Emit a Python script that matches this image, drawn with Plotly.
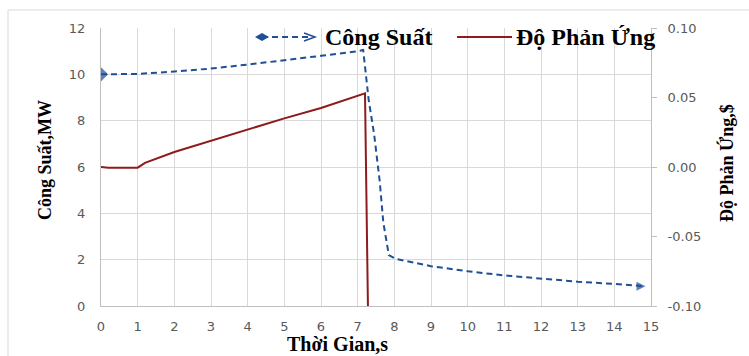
import plotly.graph_objects as go

# Power (MW) vs time (s)
t_power = [0, 1, 2, 3, 4, 5, 6, 7, 7.15, 7.3, 7.45, 7.6, 7.7, 7.85, 8.05, 9, 10, 11, 12, 13, 14, 14.85]
power = [10.0, 10.02, 10.12, 10.25, 10.42, 10.6, 10.8, 11.0, 11.05, 8.9, 7.4, 5.4, 3.6, 2.2, 2.03, 1.72, 1.5, 1.32, 1.17, 1.05, 0.95, 0.85]

# Reactivity ($) vs time (s)
t_react = [0, 0.2, 1.0, 1.2, 2, 3, 4, 5, 6, 7.2, 7.28]
react = [0.0, -0.0005, -0.0005, 0.003, 0.0108, 0.019, 0.027, 0.035, 0.0425, 0.053, -0.1]

x_ticks = list(range(0, 16))
y2_vals = [-0.10, -0.05, 0.0, 0.05, 0.10]
y2_text = ["-0.10", "-0.05", "0.00", "0.05", "0.10"]

name_power = "Công Suất"
name_react = "Độ Phản Ứng"
title_x = "Thời Gian,s"
title_y = "Công Suất,MW"
title_y2 = "Độ Phản Ứng,$"

BLUE = "#1f4f96"
RED = "#8e1b1b"
GRID = "#d9d9d9"
AX = "#bfbfbf"
TICKC = "#595959"
SERIF = "Liberation Serif"
SANS = "DejaVu Sans"

n = len(t_power)
sym = ["diamond"] + ["circle"] * (n - 2) + ["arrow-right"]
sz = [11] + [0] * (n - 2) + [9]

fig = go.Figure()
fig.add_trace(go.Scatter(x=t_power, y=power, mode="lines+markers", name=name_power,
                         line=dict(color=BLUE, width=2, dash="6px,4px"),
                         marker=dict(symbol=sym, size=sz, color=BLUE, line=dict(width=0)),
                         cliponaxis=True, showlegend=False))
fig.add_trace(go.Scatter(x=t_react, y=react, mode="lines", name=name_react, yaxis="y2",
                         line=dict(color=RED, width=2), showlegend=False))

fig.update_layout(
    width=749, height=356,
    margin=dict(l=101, r=98, t=28, b=50),
    paper_bgcolor="white", plot_bgcolor="white",
    xaxis=dict(range=[0, 15], tickvals=x_ticks, showgrid=True, gridcolor=GRID, gridwidth=1,
               showline=True, linecolor=AX, linewidth=1, ticks="", zeroline=False,
               tickfont=dict(family=SANS, size=13, color=TICKC), ticklabelstandoff=8),
    yaxis=dict(range=[0, 12], dtick=2, showgrid=True, gridcolor=GRID, gridwidth=1,
               showline=True, linecolor=AX, linewidth=1, ticks="", zeroline=False,
               tickfont=dict(family=SANS, size=13, color=TICKC), ticklabelstandoff=12),
    yaxis2=dict(range=[-0.1, 0.1], tickvals=y2_vals, ticktext=y2_text, overlaying="y", side="right",
                showgrid=False, showline=True, linecolor=AX, linewidth=1, ticks="outside",
                ticklen=5, tickcolor=AX, zeroline=False,
                tickfont=dict(family=SANS, size=13, color=TICKC), ticklabelstandoff=8),
    showlegend=False,
)

def px(xp):
    return (xp - 101) / 550

def py(yp):
    return (306 - yp) / 278

# axis titles
fig.add_annotation(text=f"<b>{title_x}</b>", xref="paper", yref="paper", x=px(337), y=py(344),
                   showarrow=False, font=dict(family=SERIF, size=20, color="black"),
                   xanchor="center", yanchor="middle")
fig.add_annotation(text=f"<b>{title_y}</b>", xref="paper", yref="paper", x=px(45), y=py(160),
                   showarrow=False, textangle=-90, font=dict(family=SERIF, size=18, color="black"),
                   xanchor="center", yanchor="middle")
fig.add_annotation(text=f"<b>{title_y2}</b>", xref="paper", yref="paper", x=px(726), y=py(163),
                   showarrow=False, textangle=-90, font=dict(family=SERIF, size=18, color="black"),
                   xanchor="center", yanchor="middle")

# custom legend
ly = 37
fig.add_shape(type="line", xref="paper", yref="paper", x0=px(262), x1=px(312), y0=py(ly), y1=py(ly),
              line=dict(color=BLUE, width=2, dash="6px,4px"))
fig.add_shape(type="path", xref="paper", yref="paper",
              path=f"M {px(255)} {py(ly)} L {px(262)} {py(ly-4)} L {px(269)} {py(ly)} L {px(262)} {py(ly+4)} Z",
              fillcolor=BLUE, line=dict(color=BLUE, width=0))
fig.add_shape(type="path", xref="paper", yref="paper",
              path=f"M {px(304)} {py(ly-4)} L {px(315)} {py(ly)} L {px(304)} {py(ly+4)}",
              line=dict(color=BLUE, width=1.5))
fig.add_annotation(text=f"<b>{name_power}</b>", xref="paper", yref="paper", x=px(323), y=py(ly), showarrow=False,
                   xanchor="left", yanchor="middle", font=dict(family=SERIF, size=24, color="black"))
fig.add_shape(type="line", xref="paper", yref="paper", x0=px(457), x1=px(512), y0=py(ly), y1=py(ly),
              line=dict(color=RED, width=2))
fig.add_annotation(text=f"<b>{name_react}</b>", xref="paper", yref="paper", x=px(514), y=py(ly), showarrow=False,
                   xanchor="left", yanchor="middle", font=dict(family=SERIF, size=24, color="black"))

# outer chart border
fig.add_shape(type="rect", xref="paper", yref="paper", x0=px(8), x1=px(760), y0=py(370), y1=py(10),
              line=dict(color=GRID, width=1), fillcolor="rgba(0,0,0,0)", layer="below")

fig.write_html("out.html")
